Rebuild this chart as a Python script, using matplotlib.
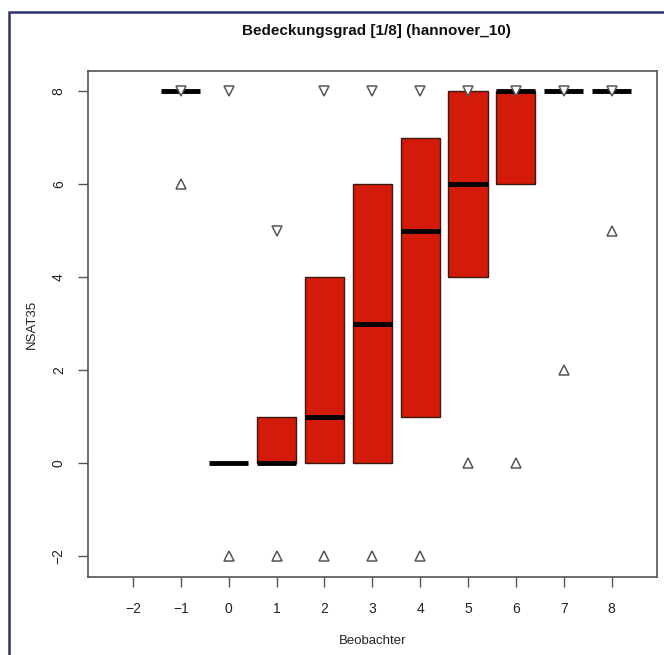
import matplotlib
matplotlib.use('Agg')
import matplotlib.pyplot as plt
import matplotlib.patches as mpatches

# Data
observer = [-1, 0, 1, 2, 3, 4, 5, 6, 7, 8]
box_low = [8, 0, 0, 0, 0, 1, 4, 6, 8, 8]
box_high = [8, 0, 1, 4, 6, 7, 8, 8, 8, 8]
median = [8, 0, 0, 1, 3, 5, 6, 8, 8, 8]
min_val = [6, -2, -2, -2, -2, -2, 0, 0, 2, 5]
max_val = [8, 8, 5, 8, 8, 8, 8, 8, 8, 8]
x_ticks = [-2, -1, 0, 1, 2, 3, 4, 5, 6, 7, 8]
y_ticks = [-2, 0, 2, 4, 6, 8]

plt.rcParams['font.family'] = ['Liberation Sans', 'DejaVu Sans']

fig = plt.figure(figsize=(6.64, 6.55), dpi=100)
ax = fig.add_axes([0.1325, 0.119, 0.857, 0.7726])

width = 0.82
for x, lo, hi, med in zip(observer, box_low, box_high, median):
    if hi > lo:
        ax.bar(x, hi - lo, bottom=lo, width=width, color='#d41a08',
               edgecolor='#3a1a10', linewidth=1.0, zorder=2)
    ax.plot([x - width / 2, x + width / 2], [med, med], color='black',
            linewidth=3.5, solid_capstyle='butt', zorder=3)

ax.plot(observer, min_val, linestyle='none', marker='^', markersize=7,
        markerfacecolor='white', markeredgecolor='#555555', markeredgewidth=1.1, zorder=4)
ax.plot(observer, max_val, linestyle='none', marker='v', markersize=7,
        markerfacecolor='white', markeredgecolor='#555555', markeredgewidth=1.1, zorder=4)

ax.set_xlim(-2.94, 8.95)
ax.set_ylim(-2.45, 8.43)
ax.set_xticks(x_ticks)
ax.set_yticks(y_ticks)
ax.set_yticklabels([str(v).replace('-', '\u2212') for v in y_ticks], rotation=90, va='center')
ax.set_xticklabels([str(v).replace('-', '\u2212') for v in x_ticks])
ax.tick_params(axis='both', direction='out', length=7, width=1, color='#555555',
               labelsize=10, labelcolor='#222222', pad=11)
ax.tick_params(axis='y', pad=9)
for sp in ax.spines.values():
    sp.set_color('#555555')
    sp.set_linewidth(1.2)

ax.set_xlabel('Beobachter', fontsize=9.5, color='#222222', labelpad=14)
ax.set_ylabel('NSAT35', fontsize=9.5, color='#222222', labelpad=10)
fig.text(0.567, 0.953, 'Bedeckungsgrad [1/8] (hannover_10)', ha='center', va='center',
         fontsize=11, fontweight='bold', color='#111111')

# outer frame of the screenshot
frame = mpatches.Rectangle((9 / 664, -0.2), 1.2, 1.2 - 12 / 655, transform=fig.transFigure,
                           fill=False, edgecolor='#2c3270', linewidth=1.8, clip_on=False)
fig.patches.append(frame)

fig.savefig('out.png', dpi=100)
